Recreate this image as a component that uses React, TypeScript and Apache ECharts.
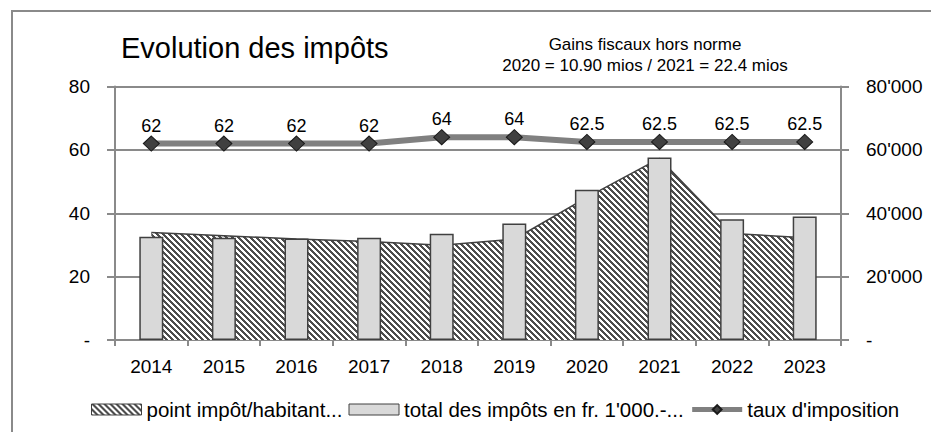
import React, { useEffect, useRef } from 'react';
import * as echarts from 'echarts';

const years = ['2014', '2015', '2016', '2017', '2018', '2019', '2020', '2021', '2022', '2023'];
const pointImpot = [33.9, 32.9, 31.9, 31.1, 29.9, 31.8, 45.0, 57.3, 33.6, 32.3];
const totalImpots = [32600, 32300, 32000, 32300, 33500, 36800, 47400, 57600, 38100, 39000];
const tauxImposition = [62, 62, 62, 62, 64, 64, 62.5, 62.5, 62.5, 62.5];
const seriesNames = ['point impôt/habitant...', "total des impôts en fr. 1'000.-...", "taux d'imposition"];
const titleText = 'Evolution des impôts';
const subtitleLines = ['Gains fiscaux hors norme', '2020 = 10.90 mios / 2021 = 22.4 mios'];

const FONT = "'Liberation Sans', Arial, sans-serif";

function makeHatch(): HTMLCanvasElement {
  const c = document.createElement('canvas');
  c.width = 6;
  c.height = 6;
  const ctx = c.getContext('2d')!;
  const img = ctx.createImageData(6, 6);
  for (let y = 0; y < 6; y++) {
    for (let x = 0; x < 6; x++) {
      const dark = ((x - y + 12) % 6) < 3;
      const i = (y * 6 + x) * 4;
      const v = dark ? 0x4d : 0xff;
      img.data[i] = v;
      img.data[i + 1] = v;
      img.data[i + 2] = v;
      img.data[i + 3] = 255;
    }
  }
  ctx.putImageData(img, 0, 0);
  return c;
}

export default function App() {
  const ref = useRef<HTMLDivElement>(null);
  useEffect(() => {
    if (!ref.current) return;
    const chart = echarts.init(ref.current, undefined, { renderer: 'svg' });
    const hatch = makeHatch();
    const hatchFill: any = { image: hatch, repeat: 'repeat' };
    const axisColor = '#8a8a8a';
    const option: any = {
      animation: false,
      backgroundColor: '#ffffff',
      textStyle: { fontFamily: FONT },
      graphic: [
        {
          type: 'rect',
          silent: true,
          z: -10,
          shape: { x: 12, y: 11, width: 1000, height: 1000 },
          style: { fill: 'none', stroke: axisColor, lineWidth: 2 },
        },
        {
          type: 'text',
          left: 121,
          top: 33,
          style: { text: titleText, fontSize: 29, fontFamily: FONT, fill: '#000' },
        },
        {
          type: 'text',
          x: 645,
          y: 44,
          style: {
            text: subtitleLines[0],
            fontSize: 17,
            fontFamily: FONT,
            fill: '#000',
            align: 'center',
            verticalAlign: 'middle',
          },
        },
        {
          type: 'text',
          x: 645,
          y: 65,
          style: {
            text: subtitleLines[1],
            fontSize: 17,
            fontFamily: FONT,
            fill: '#000',
            align: 'center',
            verticalAlign: 'middle',
          },
        },
      ],
      grid: { left: 115, right: 90, top: 86.5, bottom: 92, containLabel: false },
      legend: {
        left: 86,
        top: 394,
        itemWidth: 50,
        itemHeight: 11,
        itemGap: 6,
        textStyle: { fontSize: 20.5, fontFamily: FONT, color: '#000' },
        data: [
          {
            name: seriesNames[0],
            icon: 'rect',
            itemStyle: { color: hatchFill, borderColor: '#404040', borderWidth: 1 },
          },
          {
            name: seriesNames[1],
            icon: 'rect',
            itemStyle: { color: '#d9d9d9', borderColor: '#404040', borderWidth: 1 },
          },
          {
            name: seriesNames[2],
            lineStyle: { color: '#808080', width: 5 },
          },
        ],
      },
      xAxis: {
        type: 'category',
        data: years,
        boundaryGap: true,
        axisLine: { lineStyle: { color: axisColor, width: 2 } },
        axisTick: { show: true, length: 6, interval: 0, lineStyle: { color: axisColor, width: 2 } },
        axisLabel: { fontSize: 19, color: '#000', margin: 17, fontFamily: FONT },
        splitLine: { show: false },
      },
      yAxis: [
        {
          type: 'value',
          position: 'left',
          min: 0,
          max: 80,
          interval: 20,
          axisLine: { show: true, lineStyle: { color: axisColor, width: 2 } },
          axisTick: { show: true, length: 8, lineStyle: { color: axisColor, width: 2 } },
          axisLabel: {
            fontSize: 19,
            color: '#000',
            margin: 25,
            fontFamily: FONT,
            formatter: (v: number) => (v === 0 ? '-' : String(v)),
          },
          splitLine: { show: true, lineStyle: { color: axisColor, width: 2 } },
        },
        {
          type: 'value',
          position: 'right',
          min: 0,
          max: 80000,
          interval: 20000,
          axisLine: { show: true, lineStyle: { color: axisColor, width: 2 } },
          axisTick: { show: true, length: 8, lineStyle: { color: axisColor, width: 2 } },
          axisLabel: {
            fontSize: 19,
            color: '#000',
            margin: 25,
            fontFamily: FONT,
            formatter: (v: number) => (v === 0 ? '-' : `${v / 1000}'000`),
          },
          splitLine: { show: false },
        },
      ],
      series: [
        {
          name: seriesNames[0],
          type: 'line',
          yAxisIndex: 0,
          data: pointImpot,
          symbol: 'none',
          z: 1,
          lineStyle: { color: '#404040', width: 1.5 },
          itemStyle: { color: '#404040' },
          areaStyle: { color: hatchFill, opacity: 1 },
        },
        {
          name: seriesNames[1],
          type: 'bar',
          yAxisIndex: 1,
          data: totalImpots,
          barWidth: 24,
          z: 2,
          itemStyle: { color: '#d9d9d9', borderColor: '#404040', borderWidth: 1.5 },
        },
        {
          name: seriesNames[2],
          type: 'line',
          yAxisIndex: 0,
          data: tauxImposition,
          z: 3,
          symbol: 'diamond',
          symbolSize: [16, 15],
          lineStyle: { color: '#808080', width: 6 },
          itemStyle: { color: '#404040', borderColor: '#1a1a1a', borderWidth: 1 },
          label: {
            show: true,
            position: 'top',
            distance: 1,
            fontSize: 18,
            color: '#000',
            fontFamily: FONT,
          },
        },
      ],
    };
    chart.setOption(option);
    return () => chart.dispose();
  }, []);
  return (
    <div
      ref={ref}
      style={{ position: 'fixed', left: 0, top: 0, width: 931, height: 432, background: '#fff' }}
    />
  );
}
